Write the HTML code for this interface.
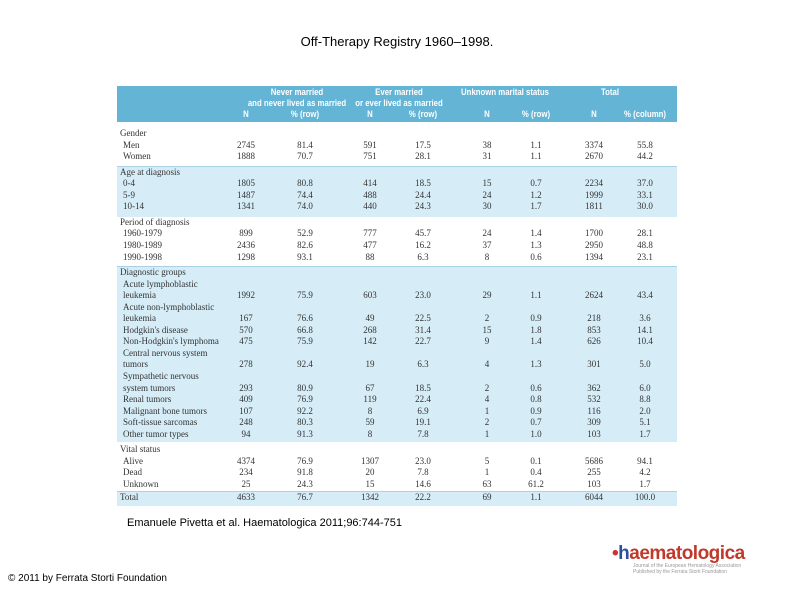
<!DOCTYPE html>
<html><head><meta charset="utf-8"><style>
body{margin:0;width:794px;height:595px;background:#fff;position:relative;overflow:hidden;font-family:"Liberation Sans",sans-serif}
.abs{position:absolute}
#hdr{left:117px;top:86px;width:560px;height:36px;background:#63b4d5}
.h{position:absolute;color:#fff;font-weight:bold;font-size:9.5px;white-space:nowrap;transform:translateX(-50%) scaleX(.82)}
.band{position:absolute;left:117px;width:560px}
.blue{background:#d6edf8;border-top:1px solid #a9d2e6}
.c{position:absolute;font-family:"Liberation Serif",serif;font-size:9px;color:#333;white-space:nowrap;line-height:11px}
</style></head><body>
<div class="abs" style="left:0;width:794px;top:34px;text-align:center;font-size:13px;color:#000">Off-Therapy Registry 1960–1998.</div>
<div id="hdr" class="abs">
<div class="h" style="left:180px;top:1px">Never married</div>
<div class="h" style="left:180px;top:12px">and never lived as married</div>
<div class="h" style="left:282px;top:1px">Ever married</div>
<div class="h" style="left:282px;top:12px">or ever lived as married</div>
<div class="h" style="left:388px;top:1px">Unknown marital status</div>
<div class="h" style="left:493px;top:1px">Total</div>
</div>
<div id="tbl"></div>
<div class="abs" style="left:127px;top:517px;font-size:11px">Emanuele Pivetta et al. Haematologica 2011;96:744-751</div>
<div class="abs" style="left:8px;top:573px;font-size:10px">© 2011 by Ferrata Storti Foundation</div>
<div class="abs" style="left:612px;top:543px;font-size:19px;font-weight:bold;color:#c0392b;letter-spacing:-0.5px"><span style="color:#c33">•</span><span style="color:#2c4fa0">h</span>aematologica</div>
<div class="abs" style="left:633px;top:563px;font-size:5px;color:#999;line-height:6px">Journal of the European Hematology Association<br>Published by the Ferrata Storti Foundation</div>
<script>
const subHeaders=["N","% (row)","N","% (row)","N","% (row)","N","% (column)"];
const labels=["Gender","Men","Women","Age at diagnosis","0-4","5-9","10-14","Period of diagnosis","1960-1979","1980-1989","1990-1998","Diagnostic groups","Acute lymphoblastic","leukemia","Acute non-lymphoblastic","leukemia","Hodgkin's disease","Non-Hodgkin's lymphoma","Central nervous system","tumors","Sympathetic nervous","system tumors","Renal tumors","Malignant bone tumors","Soft-tissue sarcomas","Other tumor types","Vital status","Alive","Dead","Unknown","Total"];
const indent=[0,1,1,0,1,1,1,0,1,1,1,0,1,1,1,1,1,1,1,1,1,1,1,1,1,1,0,1,1,1,0];
const values=[null,["2745","81.4","591","17.5","38","1.1","3374","55.8"],["1888","70.7","751","28.1","31","1.1","2670","44.2"],null,
["1805","80.8","414","18.5","15","0.7","2234","37.0"],["1487","74.4","488","24.4","24","1.2","1999","33.1"],["1341","74.0","440","24.3","30","1.7","1811","30.0"],null,
["899","52.9","777","45.7","24","1.4","1700","28.1"],["2436","82.6","477","16.2","37","1.3","2950","48.8"],["1298","93.1","88","6.3","8","0.6","1394","23.1"],null,null,
["1992","75.9","603","23.0","29","1.1","2624","43.4"],null,["167","76.6","49","22.5","2","0.9","218","3.6"],["570","66.8","268","31.4","15","1.8","853","14.1"],["475","75.9","142","22.7","9","1.4","626","10.4"],null,
["278","92.4","19","6.3","4","1.3","301","5.0"],null,["293","80.9","67","18.5","2","0.6","362","6.0"],["409","76.9","119","22.4","4","0.8","532","8.8"],["107","92.2","8","6.9","1","0.9","116","2.0"],["248","80.3","59","19.1","2","0.7","309","5.1"],["94","91.3","8","7.8","1","1.0","103","1.7"],null,
["4374","76.9","1307","23.0","5","0.1","5686","94.1"],["234","91.8","20","7.8","1","0.4","255","4.2"],["25","24.3","15","14.6","63","61.2","103","1.7"],["4633","76.7","1342","22.2","69","1.1","6044","100.0"]];
const colX=[246,305,370,423,487,536,594,645];
const bands=[[124,166,0],[166,216,1],[216,266,0],[266,441,1],[441,491,0],[491,505,1]];
const tbl=document.getElementById('tbl');
bands.forEach(b=>{if(!b[2])return;const d=document.createElement('div');d.className='band blue';d.style.top=b[0]+'px';d.style.height=(b[1]-b[0])+'px';


tbl.appendChild(d);});
const hdr=document.getElementById('hdr');
subHeaders.forEach((s,i)=>{const d=document.createElement('div');d.className='h';d.textContent=s;d.style.left=(colX[i]-117)+'px';d.style.top='23px';


hdr.appendChild(d);});
const groupStart=[3,7,11,26];
let y=128;
labels.forEach((l,i)=>{if(groupStart.includes(i))y+=4;
if(i===30)y+=1;
const d=document.createElement('div');d.className='c';d.textContent=l;d.style.left=(indent[i]?123:120)+'px';d.style.top=y+'px';


tbl.appendChild(d);
if(values[i])values[i].forEach((v,j)=>{const c=document.createElement('div');c.className='c';c.textContent=v;c.style.left=colX[j]+'px';c.style.top=y+'px';c.style.transform='translateX(-50%)';


tbl.appendChild(c);});
y+=11.55;});
</script>
</body></html>
